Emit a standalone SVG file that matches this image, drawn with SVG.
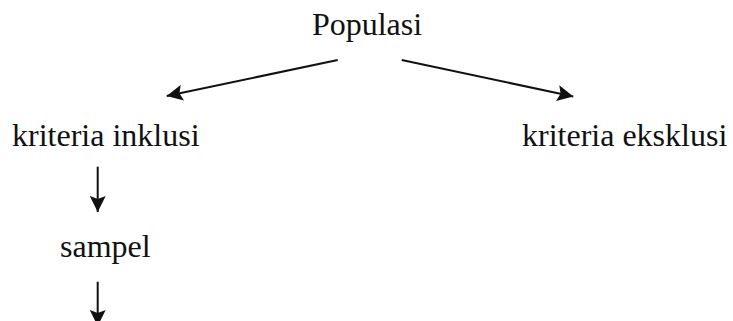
<svg xmlns="http://www.w3.org/2000/svg" width="733" height="321" viewBox="0 0 733 321">
<defs>
<style>
.t{font-family:"Liberation Serif","Times New Roman",serif;font-size:32px;fill:#111}
.c{stroke:#111;stroke-width:2;fill:none}
</style>
<marker id="ah" markerUnits="userSpaceOnUse" markerWidth="18" markerHeight="16" refX="16" refY="8" orient="auto">
<path d="M0,0 L16,8 L0,16 L3,8 Z" fill="#111"/>
</marker>
</defs>
<rect width="733" height="321" fill="#fff"/>
<g id="populasi"><text class="t" x="367" y="35" text-anchor="middle">Populasi</text></g>
<g id="inklusi"><text class="t" x="12" y="146">kriteria inklusi</text></g>
<g id="eksklusi"><text class="t" x="522" y="146">kriteria eksklusi</text></g>
<g id="sampel"><text class="t" x="60" y="257">sampel</text></g>
<g id="connectors">
<line class="c" x1="337.7" y1="60" x2="166.7" y2="96" marker-end="url(#ah)"/>
<line class="c" x1="401.7" y1="60" x2="573.3" y2="96.5" marker-end="url(#ah)"/>
<line class="c" x1="97.7" y1="166.7" x2="97.7" y2="212" marker-end="url(#ah)"/>
<line class="c" x1="97.7" y1="281.7" x2="97.7" y2="326" marker-end="url(#ah)"/>
</g>
</svg>
